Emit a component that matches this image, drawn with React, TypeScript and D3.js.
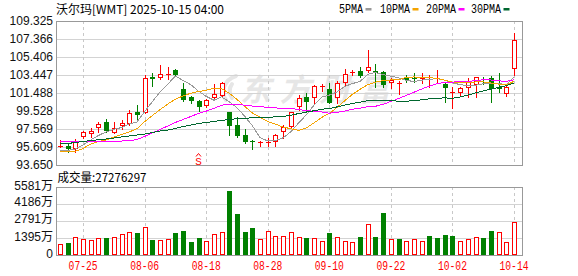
import React from 'react';
import * as d3 from 'd3';

const dates = [
  '07-22','07-23','07-24','07-25','07-28','07-29','07-30','07-31','08-01','08-04',
  '08-05','08-06','08-07','08-08','08-11','08-12','08-13','08-14','08-15','08-18',
  '08-19','08-20','08-21','08-22','08-25','08-26','08-27','08-28','08-29','09-02',
  '09-03','09-04','09-05','09-08','09-09','09-10','09-11','09-12','09-15','09-16',
  '09-17','09-18','09-19','09-22','09-23','09-24','09-25','09-26','09-29','09-30',
  '10-01','10-02','10-03','10-06','10-07','10-08','10-09','10-10','10-13','10-14'
];

const opens = [
  95.64, 95.75, 95.36, 96.67, 97.04, 97.64, 98.30, 97.16, 97.90, 98.11,
  99.42, 99.28, 103.20, 103.16, 103.54, 103.99, 101.92, 101.06, 100.66, 100.07,
  100.99, 101.19, 99.39, 98.00, 96.92, 96.29, 96.00, 96.04, 96.19, 97.27,
  97.84, 99.91, 101.02, 100.91, 102.09, 101.92, 100.99, 102.61, 103.63, 103.88,
  103.85, 103.83, 103.81, 102.58, 102.51, 103.16, 103.17, 103.01, 103.09, 103.01,
  102.52, 101.56, 101.54, 102.05, 102.41, 103.01, 103.12, 102.19, 101.43, 104.08
];
const closes = [
  95.68, 95.36, 96.29, 97.21, 97.35, 98.11, 97.35, 97.64, 98.19, 99.31,
  99.13, 103.09, 102.98, 103.52, 103.57, 103.45, 100.76, 100.66, 99.99, 100.73,
  101.35, 102.61, 97.93, 96.81, 96.12, 96.15, 96.10, 96.15, 96.92, 97.75,
  99.39, 100.89, 100.54, 102.20, 102.20, 100.45, 102.63, 103.53, 103.74, 103.39,
  104.29, 103.66, 102.36, 102.85, 102.58, 102.85, 103.06, 103.09, 103.20, 103.12,
  101.98, 101.63, 102.05, 102.71, 103.21, 102.87, 101.87, 101.94, 102.14, 107.26
];
const highs = [
  96.37, 95.90, 96.45, 97.38, 97.71, 98.36, 98.66, 98.28, 98.58, 99.69,
  100.16, 103.45, 103.63, 104.54, 104.35, 104.10, 102.54, 101.16, 100.73, 100.80,
  102.43, 102.72, 99.45, 98.91, 97.54, 96.37, 96.26, 96.56, 97.02, 98.00,
  99.45, 101.27, 101.45, 102.36, 102.43, 102.54, 102.79, 104.07, 103.99, 104.35,
  106.17, 104.68, 103.88, 103.09, 102.74, 103.45, 103.63, 103.63, 103.45, 103.94,
  102.72, 102.16, 102.17, 103.12, 103.28, 103.28, 103.30, 103.66, 102.25, 108.07
];
const lows = [
  95.62, 95.10, 95.10, 96.56, 96.73, 97.27, 97.27, 97.08, 97.52, 97.97,
  98.66, 99.26, 102.28, 102.98, 103.01, 103.34, 100.65, 100.43, 99.56, 99.93,
  100.89, 101.09, 96.92, 96.73, 96.01, 95.36, 95.72, 95.72, 95.72, 96.56,
  97.65, 99.64, 99.53, 100.37, 101.74, 100.37, 100.37, 102.36, 103.45, 103.19,
  103.81, 102.14, 102.18, 102.00, 101.38, 102.65, 102.72, 102.54, 102.14, 102.69,
  100.56, 99.89, 101.27, 101.00, 101.00, 102.43, 100.47, 101.60, 101.11, 103.45
];

// volume in 万 (10k shares)
const volumes = [
  874, 956, 1446, 1283, 1226, 1364, 1364, 1498, 1689, 1852,
  1771, 2315, 1226, 1226, 1283, 1771, 1961, 1090, 1364, 1144,
  1689, 1852, 5229, 3350, 1852, 2179, 1283, 1961, 1553, 1553,
  1852, 1498, 1364, 1364, 1144, 1771, 1498, 1144, 1035, 1446,
  2506, 1446, 3487, 1283, 1283, 1144, 1283, 1144, 1553, 1364,
  1634, 1553, 1144, 1283, 1498, 1364, 1961, 1852, 1035, 2727.6297
];
const volumeDir = (
  'rgrrrrgrrr' + 'grgrrggggr' + 'rrggggrrrr' + 'rrgrrgrrrg' + 'rggrgrrrgg' + 'ggrrrggrrr'
).split('');

// MA values before the window is full
const ma5Lead = [95.23, 95.23, 95.39, 95.83];
const ma10Lead = [95.10, 95.10, 95.14, 95.45, 95.94, 96.21, 96.37, 96.70, 96.97];
const ma20Lead = [96.19, 96.19, 96.19, 96.21, 96.21, 96.21, 96.21, 96.23, 96.26, 96.29,
  96.43, 96.76, 97.13, 97.51, 97.90, 98.28, 98.61, 98.93, 99.26];
const ma30Lead = [95.94, 95.99, 96.10, 96.21, 96.32, 96.39, 96.48, 96.59, 96.70, 96.81,
  96.92, 97.02, 97.19, 97.35, 97.46, 97.62, 97.84, 98.00, 98.17, 98.28,
  98.39, 98.50, 98.61, 98.68, 98.73, 98.79, 98.82, 98.86, 98.88];

const priceTicks = [109.325, 107.366, 105.406, 103.447, 101.488, 99.528, 97.569, 95.609, 93.650];
const volTicks = [5581, 4186, 2791, 1395, 0];
const xTickLabels = ['07-25', '08-06', '08-18', '08-28', '09-10', '09-22', '10-02', '10-14'];
const signalIndex = 18;

const title = '沃尔玛[WMT] 2025-10-15 04:00';
const volTitle = '成交量:27276297';
const watermark = '东方财富';
const legend = [
  { label: '5PMA', color: '#999999', x: 339 },
  { label: '10PMA', color: '#F4A300', x: 380 },
  { label: '20PMA', color: '#FF00FF', x: 426 },
  { label: '30PMA', color: '#00662E', x: 471 },
];

function movingAvg(n: number, lead: number[]) {
  return closes.map((c, i) =>
    i < lead.length ? lead[i] : (d3.mean(closes.slice(i - n + 1, i + 1)) as number)
  );
}

const RED = '#FF0000';
const GREEN = '#008000';
const GRID = '#D3D3D3';
const BORDER = '#999999';
const MONO = '"Liberation Mono", "DejaVu Sans Mono", monospace';
const SANS = '"Liberation Sans", Arial, "Noto Sans CJK SC", sans-serif';
const CJK = '"Noto Sans CJK SC", "Liberation Sans", sans-serif';

export default function App() {
  const W = 578, H = 276;
  const L = 56, R = 522, mTop = 21, mBot = 165, vTop = 187, vBot = 255;

  const x = d3.scalePoint<string>().domain(dates).range([60, 514]);
  const y = d3.scaleLinear().domain([93.65, 109.325]).range([mBot, mTop]);
  const yv = d3.scaleLinear().domain([0, 5581]).range([vBot, vTop]);
  const cx = (i: number) => Math.round(x(dates[i]) as number);

  const mas = [
    movingAvg(5, ma5Lead),
    movingAvg(10, ma10Lead),
    movingAvg(20, ma20Lead),
    movingAvg(30, ma30Lead),
  ];
  const line = d3
    .line<number>()
    .x((_, i) => x(dates[i]) as number)
    .y((d) => y(d));

  const sx = x(dates[signalIndex]) as number;

  return (
    <div style={{ position: 'fixed', left: 0, top: 0, width: W, height: H, background: '#fff' }}>
      <svg width={W} height={H} viewBox={`0 0 ${W} ${H}`} style={{ display: 'block' }}>
        <rect x={0} y={0} width={W} height={H} fill="#fff" />
        {/* title */}
        <text x={56} y={13.5} fontSize={12} fontFamily={CJK} fill="#000" textLength={168} lengthAdjust="spacingAndGlyphs">
          {title}
        </text>
        {/* legend */}
        {legend.map((lg) => (
          <g key={lg.label}>
            <text x={lg.x} y={13} fontSize={12} fontFamily={MONO} fill="#000" textLength={lg.label.length * 6} lengthAdjust="spacingAndGlyphs">
              {lg.label}
            </text>
            <rect x={lg.x + lg.label.length * 6 + 2.5} y={8} width={6} height={2.5} fill={lg.color} />
          </g>
        ))}

        {/* watermark */}
        <g fill="none" stroke="#E6E6E6" strokeWidth={4} strokeLinecap="round">
          <path d="M236,76 C224,80 220,92 226,100" />
          <path d="M232,84 C229,88 229,94 232,98" />
        </g>
        <text x={240} y={101} fontSize={31} fontWeight="bold" fontStyle="italic" fontFamily={CJK} fill="#E6E6E6" textLength={150} lengthAdjust="spacing">
          {watermark}
        </text>

        {/* main grid */}
        <g shapeRendering="crispEdges">
          {priceTicks.map((t) => (
            <line key={t} x1={L} x2={R} y1={Math.round(y(t)) + 0.5} y2={Math.round(y(t)) + 0.5} stroke={GRID} />
          ))}
          {xTickLabels.map((lb) => {
            const xi = Math.round(x(lb) as number) + 0.5;
            return (
              <g key={lb}>
                <line x1={xi} x2={xi} y1={mTop} y2={mBot} stroke="#C8C8C8" strokeDasharray="3,3" />
                <line x1={xi} x2={xi} y1={vTop} y2={vBot} stroke="#C8C8C8" strokeDasharray="3,3" />
              </g>
            );
          })}
          {volTicks.map((t) => (
            <line key={t} x1={L} x2={R} y1={Math.round(yv(t)) + 0.5} y2={Math.round(yv(t)) + 0.5} stroke={GRID} />
          ))}
        </g>

        {/* candles */}
        <g shapeRendering="crispEdges">
          {dates.map((d, i) => {
            const o = opens[i], c = closes[i];
            const up = c >= o;
            const col = up ? RED : GREEN;
            const px = cx(i);
            const top = Math.round(y(Math.max(o, c)));
            const bot = Math.round(y(Math.min(o, c)));
            const hi = Math.round(y(highs[i]));
            const lo = Math.round(y(lows[i]));
            const h = bot - top;
            return (
              <g key={d}>
                <line x1={px + 0.5} x2={px + 0.5} y1={hi} y2={lo + 1} stroke={col} />
                {h < 2 ? (
                  <rect x={px - 2} y={top} width={5} height={1} fill={col} />
                ) : up ? (
                  <rect x={px - 1.5} y={top + 0.5} width={4} height={h - 1} fill="#fff" stroke={col} />
                ) : (
                  <rect x={px - 2} y={top} width={5} height={h} fill={col} />
                )}
              </g>
            );
          })}
        </g>

        {/* moving averages */}
        <g shapeRendering="crispEdges" fill="none">
          {mas.map((m, k) => (
            <path key={k} d={line(m) || ''} stroke={legend[k].color} strokeWidth={1} />
          ))}
        </g>

        {/* signal marker */}
        <g fill="none" stroke={RED}>
          <path d={`M${sx - 2.5},156.5 L${sx},153.5 L${sx + 2.5},156.5`} />
        </g>
        <text x={sx} y={165} fontSize={11} fontFamily={MONO} fill={RED} textAnchor="middle">
          S
        </text>

        {/* volume bars */}
        <g shapeRendering="crispEdges">
          {volumes.map((v, i) => {
            const px = cx(i);
            const top = Math.round(yv(v));
            const red = volumeDir[i] === 'r';
            return red ? (
              <rect key={i} x={px - 1.5} y={top + 0.5} width={4} height={vBot - top - 1} fill="#fff" stroke={RED} />
            ) : (
              <rect key={i} x={px - 2} y={top} width={5} height={vBot - top} fill={GREEN} />
            );
          })}
        </g>

        {/* frames */}
        <g shapeRendering="crispEdges" fill="none" stroke={BORDER}>
          <rect x={L + 0.5} y={mTop + 0.5} width={R - L} height={mBot - mTop} />
          <rect x={L + 0.5} y={vTop + 0.5} width={R - L} height={vBot - vTop} />
        </g>

        {/* price axis labels */}
        {priceTicks.map((t) => (
          <text key={t} x={53} y={y(t)} fontSize={12} fontFamily={SANS} fill="#111" textAnchor="end" dominantBaseline="central">
            {t.toFixed(3)}
          </text>
        ))}

        {/* volume title */}
        <text x={57.5} y={181.5} fontSize={12} fontFamily={CJK} fill="#000" textLength={89} lengthAdjust="spacingAndGlyphs">
          {volTitle}
        </text>

        {/* volume axis labels */}
        {volTicks.map((t) => (
          <text key={t} x={53} y={yv(t) - 1.5} fontSize={12} fontFamily={SANS} fill="#111" textAnchor="end" dominantBaseline="central">
            {t === 0 ? '0' : `${t}万`}
          </text>
        ))}

        {/* x axis labels */}
        {xTickLabels.map((lb) => (
          <text key={lb} x={x(lb) as number} y={270} fontSize={12} fontFamily={MONO} fill={RED} textAnchor="middle" textLength={29} lengthAdjust="spacingAndGlyphs">
            {lb}
          </text>
        ))}
      </svg>
    </div>
  );
}
